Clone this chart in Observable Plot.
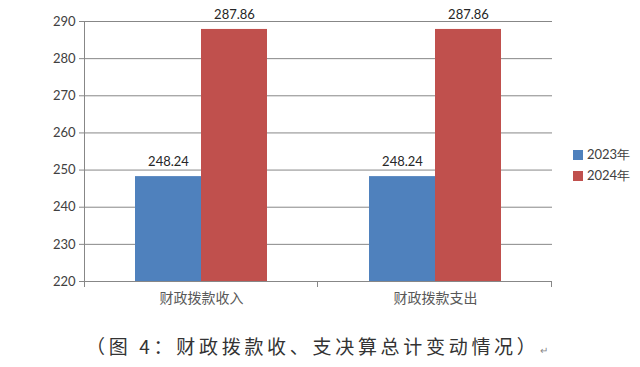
<!DOCTYPE html>
<html><head><meta charset="utf-8">
<script src="https://cdn.jsdelivr.net/npm/d3@7"></script>
<script src="https://cdn.jsdelivr.net/npm/@observablehq/plot@0.6"></script>
<style>
body{margin:0;background:#fff;}
#wrap{position:relative;width:640px;height:367px;overflow:hidden;}
#legend{position:absolute;left:573px;top:144px;font-family:Lato,sans-serif;font-size:13px;color:#404040;}
#legend .item{display:flex;align-items:center;height:21px;}
#legend .sw{width:10px;height:10px;margin-right:4px;}
#caption{position:absolute;left:86px;top:334px;font-family:"Noto Sans CJK SC",sans-serif;font-size:19px;letter-spacing:3.7px;color:#333;white-space:nowrap;line-height:24px;}
#caption .pm{font-size:10px;color:#888;letter-spacing:0;}
</style></head><body><div id="wrap"></div>
<script>
const categories = ["财政拨款收入", "财政拨款支出"];
const years = ["2023年", "2024年"];
const values2023 = [248.24, 248.24];
const values2024 = [287.86, 287.86];
const yTicks = [220, 230, 240, 250, 260, 270, 280, 290];
const colors = ["#4F81BD", "#C0504D"];
const captionText = "（图 4：财政拨款收、支决算总计变动情况）";

const data = categories.flatMap((c, i) => [
  {category: c, year: years[0], value: values2023[i]},
  {category: c, year: years[1], value: values2024[i]}
]);

const gray = "#878787";
const chart = Plot.plot({
  width: 640, height: 318,
  marginLeft: 83, marginRight: 88, marginTop: 21, marginBottom: 37,
  style: {fontFamily: "Lato, sans-serif", fontSize: "13px", color: "#404040", background: "transparent"},
  fx: {domain: categories, padding: 0, label: null},
  x: {domain: years, paddingInner: 0, paddingOuter: 0.75, axis: null},
  y: {domain: [yTicks[0], yTicks[yTicks.length - 1]], axis: null},
  color: {domain: years, range: colors},
  marks: [
    Plot.gridY(yTicks, {stroke: gray, strokeOpacity: 1}),
    Plot.barY(data, {fx: "category", x: "year", y1: yTicks[0], y2: "value", fill: "year"}),
    Plot.ruleY([yTicks[0]], {stroke: gray}),
    Plot.text(data, {fx: "category", x: "year", y: "value", text: d => d.value.toFixed(2), dy: -15, fill: "#262626", fontSize: 13}),
    Plot.axisY(yTicks, {tickSize: 5, tickPadding: 4, stroke: gray, fill: "#404040", label: null, fontSize: 13}),
    Plot.axisFx({anchor: "bottom", tickSize: 0, tickPadding: 12, fontSize: 14, fontFamily: "Noto Sans CJK SC, sans-serif", fill: "#595959", label: null})
  ]
});

const wrap = document.getElementById("wrap");
wrap.appendChild(chart);

// axis line and band-boundary ticks derived from the scales
const fx = chart.scale("fx"), y = chart.scale("y");
const svg = d3.select(chart);
const g = svg.append("g").attr("stroke", gray);
const x0 = fx.apply(categories[0]);
const yTop = y.apply(yTicks[yTicks.length - 1]), yBot = y.apply(yTicks[0]);
g.append("line").attr("x1", x0 + 0.5).attr("x2", x0 + 0.5).attr("y1", yTop).attr("y2", yBot + 6);
const bounds = categories.map(c => fx.apply(c)).concat([fx.apply(categories[categories.length - 1]) + fx.bandwidth]);
bounds.slice(1).forEach(b => {
  g.append("line").attr("x1", b - 0.5).attr("x2", b - 0.5).attr("y1", yBot).attr("y2", yBot + 6);
});

// legend
const legend = document.createElement("div");
legend.id = "legend";
years.forEach((yr, i) => {
  const it = document.createElement("div"); it.className = "item";
  const sw = document.createElement("div"); sw.className = "sw"; sw.style.background = colors[i];
  const t = document.createElement("span"); t.textContent = yr;
  it.appendChild(sw); it.appendChild(t); legend.appendChild(it);
});
wrap.appendChild(legend);

// caption
const cap = document.createElement("div");
cap.id = "caption";
cap.innerHTML = captionText + '<span class="pm">↵</span>';
wrap.appendChild(cap);
</script>
</body></html>
